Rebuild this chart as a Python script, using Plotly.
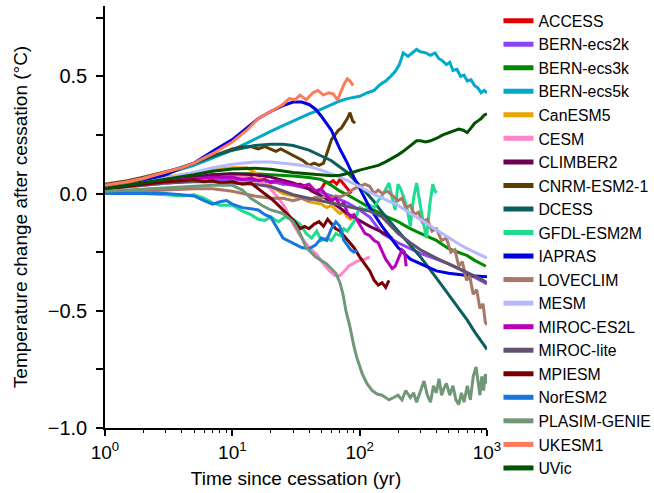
import plotly.graph_objects as go

# ---------------- data ----------------
models = ["ACCESS", "BERN-ecs2k", "BERN-ecs3k", "BERN-ecs5k", "CanESM5", "CESM",
          "CLIMBER2", "CNRM-ESM2-1", "DCESS", "GFDL-ESM2M", "IAPRAS", "LOVECLIM",
          "MESM", "MIROC-ES2L", "MIROC-lite", "MPIESM", "NorESM2", "PLASIM-GENIE",
          "UKESM1", "UVic"]

colors = ["#E00000", "#8C44F4", "#008A00", "#00AAC8", "#E8A400", "#FF84CC",
          "#6A0050", "#5C3E00", "#0B5E5E", "#20DC8E", "#0000E0", "#A87868",
          "#B8B8FF", "#B800B8", "#62526E", "#780000", "#1678DC", "#709878",
          "#FF7A5A", "#005200"]

ACCESS_t = [1, 1.5, 2, 3, 4, 5, 6, 7, 8, 10, 12, 14, 16, 18, 20, 22, 25, 28, 31, 34, 38, 42, 46,
            50, 54, 58, 62, 66, 70, 74, 78, 82, 86]
ACCESS_y = [.02, .03, .04, .05, .06, .065, .07, .075, .07, .075, .065, .07, .055, .06, .045, .05,
            .04, .045, .035, .04, .03, .01, .0, .02, .05, .045, .055, .04, .06, .045, .03, .015, .0]

BERN2_t = [1, 2, 3, 5, 7, 10, 15, 20, 30, 40, 50, 60, 80, 100, 120, 150, 200, 250, 300, 400,
           500, 600, 700, 800, 900, 1000]
BERN2_y = [.02, .035, .045, .055, .06, .06, .055, .05, .035, .02, .005, -.01, -.04, -.07, -.1,
           -.17, -.21, -.235, -.255, -.28, -.3, -.32, -.34, -.355, -.37, -.385]

BERN3_t = [1, 2, 3, 5, 7, 10, 15, 20, 30, 40, 50, 60, 70, 80, 100, 120, 150, 200, 250, 300,
           400, 500, 600, 700, 800, 900, 980]
BERN3_y = [.02, .04, .055, .07, .08, .085, .085, .08, .075, .068, .06, .035, .01, -.005, -.035,
           -.06, -.09, -.12, -.15, -.17, -.2, -.235, -.25, -.265, -.285, -.3, -.31]

BERN5_t = [1, 1.5, 2, 3, 4, 5, 7, 10, 13, 16, 20, 25, 30, 40, 50, 60, 70, 80, 90, 100, 115,
           130, 145, 160, 175, 190, 205, 220, 240, 260, 280, 300, 330, 360, 390, 420, 450,
           480, 510, 540, 580, 620, 660, 700, 750, 800, 850, 900, 950, 1000]
BERN5_y = [.03, .045, .06, .085, .105, .12, .15, .185, .215, .24, .265, .29, .31, .34, .36,
           .38, .395, .405, .41, .415, .43, .44, .465, .48, .50, .52, .55, .60, .585, .60,
           .615, .605, .60, .59, .60, .575, .565, .55, .56, .525, .53, .50, .505, .48, .485,
           .46, .45, .43, .44, .43]

CanESM5_t = [1, 2, 3, 5, 7, 10, 13, 15, 18, 20, 25, 30, 35, 40, 45, 50, 55, 60, 65, 70, 75,
             80, 85, 88]
CanESM5_y = [.03, .055, .07, .09, .1, .11, .11, .09, .04, .03, .0, -.01, -.02, -.035, -.04,
             -.045, -.06, -.05, -.07, -.085, -.075, -.1, -.11, -.1]

CESM_t = [1, 2, 3, 5, 7, 10, 13, 16, 18, 20, 23, 26, 30, 34, 40, 46, 52, 58, 64, 70, 76, 82,
          88, 94, 100, 110, 120]
CESM_y = [.02, .035, .045, .06, .07, .075, .07, .06, .04, .02, -.02, -.06, -.13, -.18, -.23,
          -.26, -.3, -.33, -.35, -.35, -.33, -.31, -.30, -.29, -.285, -.28, -.27]

CLIMBER2_t = [1, 2, 3, 5, 7, 10, 15, 20, 25, 30, 40, 50, 60, 80, 100, 120, 150, 180]
CLIMBER2_y = [.02, .04, .055, .07, .08, .085, .08, .07, .055, .045, .02, -.01, -.035, -.085,
              -.115, -.14, -.165, -.19]

CNRM_t = [1, 1.5, 2, 3, 4, 5, 7, 10, 12, 14, 16, 18, 20, 22, 24, 26, 28, 30, 33, 36, 40, 44,
          48, 52, 56, 60, 64, 68, 72, 76, 80, 84, 88, 92]
CNRM_y = [.04, .055, .07, .095, .11, .13, .16, .19, .2, .2, .19, .2, .19, .18, .19, .18, .17,
          .16, .15, .14, .12, .13, .12, .13, .18, .23, .25, .27, .28, .30, .32, .345, .31, .30]

DCESS_t = [1, 2, 3, 5, 7, 10, 15, 20, 25, 30, 40, 50, 60, 80, 100, 130, 150, 200, 250, 300,
           400, 500, 600, 700, 800, 1000]
DCESS_y = [.03, .065, .09, .13, .16, .185, .205, .21, .21, .205, .185, .16, .14, .09, .035,
           -.035, -.08, -.16, -.22, -.27, -.36, -.43, -.49, -.54, -.59, -.665]

GFDL_t = [1, 2, 3, 4, 5, 6, 7, 8, 10, 12, 14, 16, 18, 20, 23, 26, 30, 34, 38, 42, 46, 50,
          55, 60, 65, 70, 75, 80, 90, 100, 110, 120, 130, 140, 150, 160, 170, 180, 190, 200,
          210, 220, 235, 250, 265, 280, 295, 315, 335, 355, 375, 390, 405]
GFDL_y = [.0, .0, -.005, -.01, -.005, -.02, -.04, -.05, -.05, -.075, -.09, -.11, -.115, -.1,
          -.12, -.1, -.11, -.13, -.17, -.19, -.16, -.2, -.19, -.2, -.17, -.18, -.15, -.16,
          -.12, -.06, -.07, -.05, -.06, -.03, -.01, .02, .045, -.02, -.07, .04, .02, -.01,
          -.06, -.14, -.02, .045, -.03, -.12, -.19, -.05, .04, .01, .005]

IAPRAS_t = [1, 1.5, 2, 3, 4, 5, 7, 10, 13, 16, 20, 25, 30, 35, 40, 45, 50, 60, 70, 80, 90,
            100, 120, 150, 200, 250, 300, 400, 500, 700, 1000]
IAPRAS_y = [.02, .035, .05, .08, .11, .13, .18, .23, .28, .32, .35, .375, .39, .39, .38, .36,
            .33, .27, .19, .13, .07, .02, -.06, -.14, -.23, -.28, -.30, -.33, -.34, -.35, -.355]

LOVECLIM_t = [1, 2, 3, 5, 7, 10, 15, 20, 25, 30, 35, 40, 45, 50, 55, 60, 65, 70, 80, 90, 100,
              110, 120, 130, 140, 150, 165, 180, 200, 215, 230, 250, 270, 290, 310, 340, 370,
              400, 440, 480, 520, 560, 600, 640, 690, 730, 780, 830, 880, 930, 970, 1000]
LOVECLIM_y = [.0, .01, .015, .02, .02, .01, -.01, -.02, -.02, -.03, -.02, -.03, -.015, -.02,
              -.01, -.02, -.01, -.015, .0, .02, .03, .04, .03, .0, .015, .0, .01, -.01, -.03,
              -.02, -.06, -.05, -.09, -.08, -.12, -.11, -.16, -.15, -.2, -.19, -.25, -.24,
              -.31, -.29, -.37, -.35, -.43, -.41, -.49, -.47, -.55, -.56]

MESM_t = [1, 2, 3, 5, 7, 10, 15, 20, 30, 40, 50, 60, 70, 80, 100, 120, 150, 200, 250, 300,
          400, 500, 600, 700, 800, 900, 1000]
MESM_y = [.02, .045, .065, .09, .11, .125, .135, .135, .125, .115, .1, .085, .07, .055, .03,
          .005, -.02, -.05, -.085, -.11, -.155, -.19, -.215, -.235, -.25, -.265, -.275]

MIROCES_t = [1, 2, 3, 5, 7, 10, 12, 14, 16, 18, 20, 23, 26, 30, 35, 40, 45, 50, 55, 60, 65,
             70, 75, 80, 85, 90, 100, 110, 120, 130, 140, 150, 160, 170, 180, 190, 200, 215,
             225, 232]
MIROCES_y = [.02, .04, .055, .065, .07, .07, .06, .065, .055, .06, .05, .055, .045, .04, .03,
             .04, .01, .02, -.01, -.03, -.02, -.05, -.04, -.08, -.1, -.09, -.13, -.17, -.18,
             -.2, -.21, -.25, -.28, -.3, -.32, -.31, -.28, -.24, -.25, -.31]

MIROCL_t = [1, 2, 3, 5, 7, 10, 15, 20, 30, 40, 50, 60, 80, 100, 120, 150, 200, 250, 300, 400,
            500, 600, 700, 800, 900, 1000]
MIROCL_y = [.02, .035, .045, .05, .05, .045, .04, .03, -.005, -.02, -.03, -.04, -.055, -.065,
            -.075, -.1, -.17, -.21, -.24, -.275, -.3, -.32, -.335, -.35, -.365, -.38]

MPIESM_t = [1, 2, 3, 4, 5, 6, 7, 8, 10, 12, 14, 16, 18, 20, 22, 25, 28, 31, 34, 37, 40, 44,
            48, 52, 56, 60, 65, 70, 75, 80, 90, 100, 110, 120, 130, 140, 150, 160, 170]
MPIESM_y = [.02, .04, .05, .055, .06, .05, .055, .045, .05, .04, .045, .02, .0, -.02, -.04,
            -.07, -.1, -.12, -.15, -.14, -.15, -.13, -.12, -.14, -.11, -.13, -.15, -.16, -.18,
            -.2, -.23, -.27, -.3, -.33, -.37, -.39, -.38, -.40, -.37]

NorESM2_t = [1, 2, 3, 4, 5, 6, 7, 8, 9, 10, 12, 14, 16, 18, 20, 25, 30, 35, 40, 45, 50, 55,
             60, 65, 70, 75, 80, 85, 90, 95]
NorESM2_y = [.0, .0, .0, -.005, -.01, -.03, -.045, -.035, -.03, -.045, -.06, -.065, -.07,
             -.09, -.1, -.19, -.21, -.23, -.235, -.22, -.19, -.2, -.15, -.12, -.14, -.2, -.22,
             -.24, -.25, -.245]

PLASIM_t = [1, 2, 3, 5, 7, 10, 12, 14, 17, 20, 25, 30, 34, 38, 45, 55, 65, 70, 74, 78, 84,
            90, 95, 105, 114, 125, 137, 150, 170, 185, 200, 215, 230, 250, 265, 280, 300, 320,
            340, 360, 380, 400, 420, 440, 460, 480, 510, 540, 570, 600, 630, 660, 700, 740,
            780, 820, 850, 880, 910, 940, 970, 1000]
PLASIM_y = [.01, .02, .025, .03, .035, .035, .015, -.02, -.05, -.07, -.085, -.12, -.17, -.23,
            -.27, -.3, -.34, -.38, -.43, -.5, -.57, -.65, -.7, -.77, -.81, -.84, -.855, -.86,
            -.88, -.87, -.86, -.88, -.84, -.87, -.85, -.89, -.84, -.8, -.86, -.89, -.82, -.85,
            -.79, -.86, -.83, -.81, -.86, -.82, -.88, -.9, -.85, -.89, -.82, -.88, -.78, -.74,
            -.8, -.86, -.78, -.84, -.77, -.81]

UKESM1_t = [1, 1.5, 2, 3, 4, 5, 7, 10, 13, 16, 20, 25, 28, 31, 34, 38, 43, 47, 52, 57, 62,
            67, 72, 76, 80, 84, 89]
UKESM1_y = [.035, .05, .065, .09, .11, .13, .17, .22, .27, .32, .35, .38, .405, .40, .42, .40,
            .43, .44, .42, .43, .425, .40, .44, .47, .49, .48, .46]

UVic_t = [1, 2, 3, 5, 7, 10, 15, 20, 30, 40, 50, 60, 70, 80, 90, 100, 120, 140, 160, 180,
          200, 220, 240, 260, 280, 300, 330, 360, 400, 450, 500, 550, 600, 650, 700, 750, 800,
          850, 900, 950, 1000]
UVic_y = [.02, .045, .06, .08, .095, .105, .108, .104, .09, .083, .078, .076, .078, .085,
          .092, .1, .11, .12, .135, .15, .165, .18, .195, .21, .225, .225, .22, .225, .235,
          .25, .26, .27, .275, .27, .26, .28, .30, .31, .32, .335, .34]

series_t = [ACCESS_t, BERN2_t, BERN3_t, BERN5_t, CanESM5_t, CESM_t, CLIMBER2_t, CNRM_t,
            DCESS_t, GFDL_t, IAPRAS_t, LOVECLIM_t, MESM_t, MIROCES_t, MIROCL_t, MPIESM_t,
            NorESM2_t, PLASIM_t, UKESM1_t, UVic_t]
series_y = [ACCESS_y, BERN2_y, BERN3_y, BERN5_y, CanESM5_y, CESM_y, CLIMBER2_y, CNRM_y,
            DCESS_y, GFDL_y, IAPRAS_y, LOVECLIM_y, MESM_y, MIROCES_y, MIROCL_y, MPIESM_y,
            NorESM2_y, PLASIM_y, UKESM1_y, UVic_y]

y_tickvals = [-1.0, -0.75, -0.5, -0.25, 0.0, 0.25, 0.5, 0.75]
y_ticktext = ["\u22121.0", "", "\u22120.5", "", "0.0", "", "0.5", ""]
x_tickvals = [1, 10, 100, 1000]
x_ticktext = ["10<sup>0</sup>", "10<sup>1</sup>", "10<sup>2</sup>", "10<sup>3</sup>"]
x_minor = [m * d for d in (1, 10, 100) for m in range(2, 10)]

# ---------------- figure ----------------
FONT = "Liberation Sans, Arial, Helvetica, sans-serif"
fig = go.Figure()
for name, col, tt, yy in zip(models, colors, series_t, series_y):
    n = min(len(tt), len(yy))
    fig.add_trace(go.Scatter(x=tt[:n], y=yy[:n], mode="lines", name=name,
                             line=dict(color=col, width=3), showlegend=False,
                             legendgroup=name))
# legend entries (thicker key lines, no data)
for name, col in zip(models, colors):
    fig.add_trace(go.Scatter(x=[None], y=[None], mode="lines", name=name,
                             line=dict(color=col, width=5), legendgroup=name,
                             showlegend=True))

fig.update_layout(
    width=654, height=493,
    margin=dict(l=105, r=167, t=6, b=65, autoexpand=False),
    paper_bgcolor="white", plot_bgcolor="white",
    font=dict(family=FONT, color="black", size=20),
    legend=dict(x=1.03, xanchor="left", y=1.005, yanchor="top",
                font=dict(size=15.8, family=FONT), itemwidth=30,
                bgcolor="rgba(0,0,0,0)", tracegroupgap=0, maxheight=490),
    showlegend=True,
)
fig.update_xaxes(type="log", range=[0, 3], showline=True, linecolor="black", linewidth=1.6,
                 ticks="outside", ticklen=6, tickwidth=1.6, tickcolor="black",
                 tickvals=x_tickvals, ticktext=x_ticktext, showgrid=False, zeroline=False,
                 tickfont=dict(size=19), automargin=False,
                 minor=dict(tickvals=x_minor, ticks="outside", ticklen=3.5, tickwidth=1.2,
                            tickcolor="black", showgrid=False),
                 title=dict(text="Time since cessation (yr)", font=dict(size=19), standoff=10))
fig.update_yaxes(range=[-1.0, 0.8], showline=True, linecolor="black", linewidth=1.6,
                 ticks="outside", ticklen=7, tickwidth=1.6, tickcolor="black",
                 tickvals=y_tickvals, ticktext=y_ticktext, showgrid=False, zeroline=False,
                 tickfont=dict(size=20), automargin=False, ticklabelstandoff=5,
                 title=dict(text="Temperature change after cessation (\u00b0C)",
                            font=dict(size=19), standoff=15))

# remove the browser's default 8px body margin so the figure sits at the page corner
fig.write_html("out.html", config={"displayModeBar": False},
               post_script="document.body.style.margin='0';document.body.style.padding='0';")
